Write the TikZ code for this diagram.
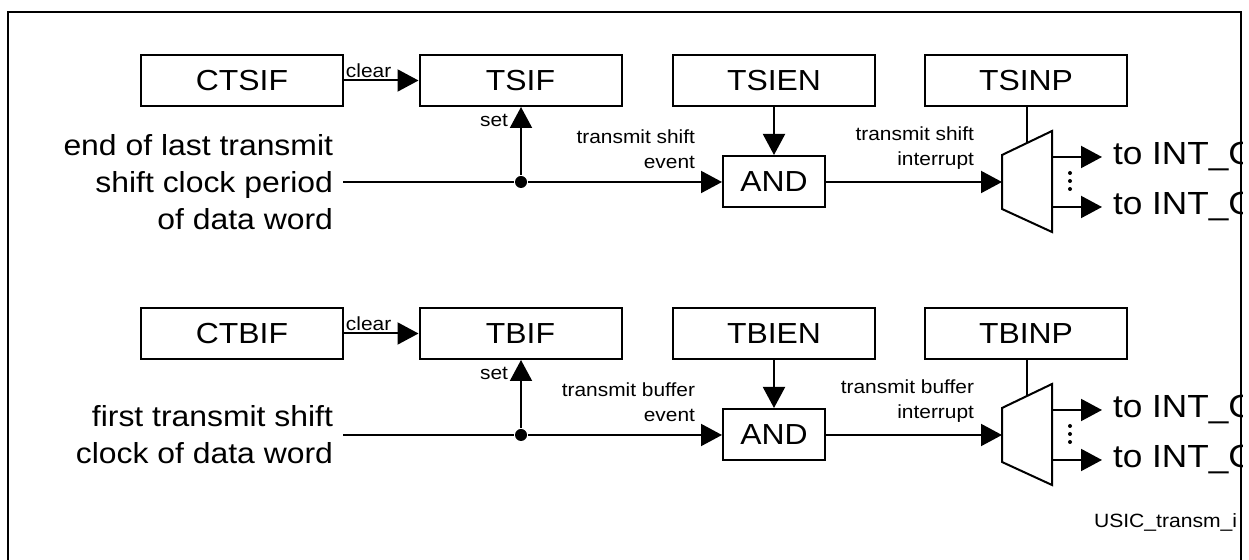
\documentclass[tikz,border=0pt]{standalone}
\usepackage{fontspec}
\setmainfont{Liberation Sans}[FakeStretch=1.1]
\usetikzlibrary{arrows.meta,positioning}

\begin{document}
\begin{tikzpicture}[x=0.5pt, y=-0.5pt,
            > = {Triangle[length=10.5pt,width=11pt]},
   line width = 1pt,
      reg/.style = {rectangle, draw, minimum width=101pt, minimum height=25.5pt, inner sep=0pt, font=\fontsize{14.5}{17}\selectfont},
     gate/.style = {reg, minimum width=51pt},
      src/.style = {anchor=east, align=right, inner sep=0pt, outer sep=5pt, font=\fontsize{14.5}{18.5}\selectfont},
      lbl/.style = {align=right, inner sep=0pt, font=\fontsize{9.5}{12.5}\selectfont},
    small/.style = {inner sep=1pt, font=\fontsize{9.5}{11}\selectfont},
     dest/.style = {anchor=west, inner sep=0pt, outer sep=5.5pt, font=\fontsize{16}{19}\selectfont},
 junction/.style = {circle, fill, inner sep=0pt, minimum size=6pt}
]
\useasboundingbox (0,0) rectangle (1249,560);
\clip (0,0) rectangle (1242,560);
\draw (8,12) rectangle (1241,600);

% transmit shift interrupt
\node (CTSIF) [reg] at (242,80.5)   {CTSIF};
\node (TSIF)  [reg] at (520.5,80.5) {TSIF};
\node (TSIEN) [reg] at (774,80.5)   {TSIEN};
\node (TSINP) [reg] at (1026,80.5)  {TSINP};
\node (ANDS)  [gate, below=24pt of TSIEN] {AND};
\node (EOW)   [src] at (343,182) {end of last transmit\\shift clock period\\of data word};
\node (TSJ)   [junction] at (521,182) {};
\coordinate (TSMUX) at (1002,182);
\coordinate (TSSEL) at (1027,143.5);
\coordinate (TSO1)  at (1052,157);
\coordinate (TSO2)  at (1052,207);
\node (TSD1) [dest] at (1102,157) {to INT\_C};
\node (TSD2) [dest] at (1102,207) {to INT\_C};

\draw[->] (CTSIF) -- (TSIF) node[small, above, pos=0.33] {clear};
\draw (EOW.east |- TSJ) -- (TSJ);
\draw[->] (TSJ) -- (TSJ |- TSIF.south) node[small, left, pos=0.8, xshift=-5pt] {set};
\draw[->] (TSJ) -- (ANDS.west |- TSJ) node[lbl, pos=1, anchor=south east, xshift=-13pt, yshift=6pt] {transmit shift\\event};
\draw[->] (TSIEN) -- (ANDS);
\draw[->] (ANDS.east |- TSMUX) -- (TSMUX) node[lbl, pos=1, anchor=south east, xshift=-13.5pt, yshift=6pt] {transmit shift\\interrupt};
\draw (1002,155) -- (1052,131) -- (1052,232) -- (1002,209) -- cycle;
\draw (TSINP.south -| TSSEL) -- (TSSEL);
\draw[->] (TSO1) -- (TSD1);
\draw[->] (TSO2) -- (TSD2);
\fill (1070,173) circle (2) (1070,181) circle (2) (1070,189) circle (2);

% transmit buffer interrupt
\node (CTBIF) [reg] at (242,333.5)   {CTBIF};
\node (TBIF)  [reg] at (520.5,333.5) {TBIF};
\node (TBIEN) [reg] at (774,333.5)   {TBIEN};
\node (TBINP) [reg] at (1026,333.5)  {TBINP};
\node (ANDB)  [gate, below=24pt of TBIEN] {AND};
\node (FTS)   [src] at (343,435) {first transmit shift\\clock of data word};
\node (TBJ)   [junction] at (521,435) {};
\coordinate (TBMUX) at (1002,435);
\coordinate (TBSEL) at (1027,396.5);
\coordinate (TBO1)  at (1052,410);
\coordinate (TBO2)  at (1052,460);
\node (TBD1) [dest] at (1102,410) {to INT\_C};
\node (TBD2) [dest] at (1102,460) {to INT\_C};

\draw[->] (CTBIF) -- (TBIF) node[small, above, pos=0.33] {clear};
\draw (FTS.east |- TBJ) -- (TBJ);
\draw[->] (TBJ) -- (TBJ |- TBIF.south) node[small, left, pos=0.8, xshift=-5pt] {set};
\draw[->] (TBJ) -- (ANDB.west |- TBJ) node[lbl, pos=1, anchor=south east, xshift=-13pt, yshift=6pt] {transmit buffer\\event};
\draw[->] (TBIEN) -- (ANDB);
\draw[->] (ANDB.east |- TBMUX) -- (TBMUX) node[lbl, pos=1, anchor=south east, xshift=-13.5pt, yshift=6pt] {transmit buffer\\interrupt};
\draw (1002,408) -- (1052,384) -- (1052,485) -- (1002,462) -- cycle;
\draw (TBINP.south -| TBSEL) -- (TBSEL);
\draw[->] (TBO1) -- (TBD1);
\draw[->] (TBO2) -- (TBD2);
\fill (1070,426) circle (2) (1070,434) circle (2) (1070,442) circle (2);

\node (FIG) [anchor=west, inner sep=0pt, font=\fontsize{9.6}{12}\selectfont] at (1093,522) {USIC\_transm\_i};
\end{tikzpicture}
\end{document}
